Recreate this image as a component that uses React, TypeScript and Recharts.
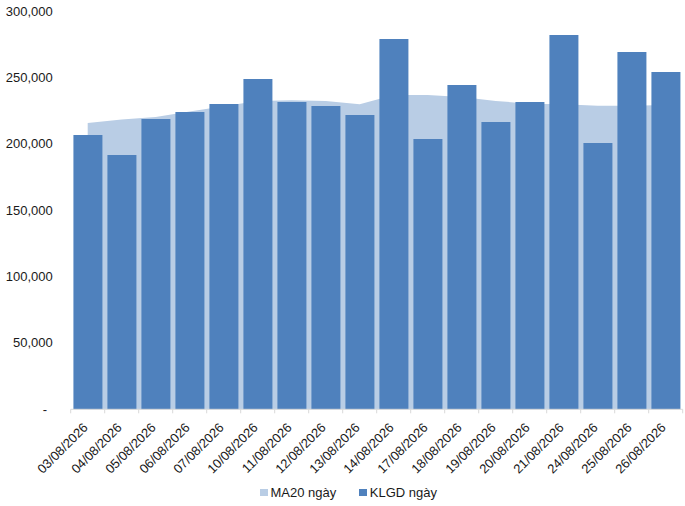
import { ComposedChart, Bar, Area, XAxis, YAxis, Legend } from 'recharts';

const dates = [
  '03/08/2026', '04/08/2026', '05/08/2026', '06/08/2026', '07/08/2026', '10/08/2026',
  '11/08/2026', '12/08/2026', '13/08/2026', '14/08/2026', '17/08/2026', '18/08/2026',
  '19/08/2026', '20/08/2026', '21/08/2026', '24/08/2026', '25/08/2026', '26/08/2026',
];

// KLGD ngày (daily volume)
const klgd = [
  206900, 191800, 218900, 224200, 230200, 249100, 231700, 228700, 221900,
  279200, 203800, 244600, 216600, 231700, 282200, 200800, 269500, 254400,
];

// MA20 ngày
const ma20 = [
  216000, 218500, 220500, 224500, 228500, 232500, 233000, 232500, 230000,
  237000, 237000, 235500, 232500, 230500, 230000, 229000, 229000, 229500,
];

const yTicks = [0, 50000, 100000, 150000, 200000, 250000, 300000];

const FONT = '"Liberation Sans", Arial, sans-serif';
const BAR_COLOR = '#4F81BD';
const AREA_COLOR = '#B9CDE5';
const AXIS_COLOR = '#D9D9D9';

const data = dates.map((d, i) => ({ date: d, klgd: klgd[i], ma20: ma20[i] }));

const YTick = (props: any) => {
  const { y, payload } = props;
  const isZero = payload.value === 0;
  return (
    <text
      x={isZero ? 47 : 52.7}
      y={y}
      dy="0.33em"
      textAnchor="end"
      fontSize={13}
      fontFamily={FONT}
      fill="#1a1a1a"
    >
      {isZero ? '-' : payload.value.toLocaleString('en-US')}
    </text>
  );
};

const XTick = (props: any) => {
  const { x, y, payload, index } = props;
  const half = payload.offset ?? 17;
  return (
    <g>
      <line x1={x - half} x2={x - half} y1={y} y2={y + 4} stroke={AXIS_COLOR} />
      {index === dates.length - 1 && (
        <line x1={x + half} x2={x + half} y1={y} y2={y + 4} stroke={AXIS_COLOR} />
      )}
      <text
        x={x + 1}
        y={y + 19}
        textAnchor="end"
        transform={`rotate(-45, ${x + 1}, ${y + 19})`}
        fontSize={13}
        fontFamily={FONT}
        fill="#1a1a1a"
      >
        {payload.value}
      </text>
    </g>
  );
};

const legendItems = [
  { label: 'MA20 ngày', color: AREA_COLOR },
  { label: 'KLGD ngày', color: BAR_COLOR },
];

const LegendContent = () => (
  <div style={{ display: 'flex', justifyContent: 'center', paddingLeft: 12, fontFamily: FONT, fontSize: 13, color: '#1a1a1a' }}>
    {legendItems.map((item, i) => (
      <div key={item.label} style={{ display: 'flex', alignItems: 'center', marginLeft: i ? 23 : 0 }}>
        <span style={{ display: 'inline-block', width: 7.5, height: 7.5, background: item.color, marginRight: 3 }} />
        <span>{item.label}</span>
      </div>
    ))}
  </div>
);

export default function App() {
  return (
    <div style={{ position: 'absolute', left: 0, top: 0, width: 685, height: 506, background: '#fff' }}>
      <ComposedChart
        width={685}
        height={506}
        data={data}
        margin={{ top: 11.5, right: 2.3, left: 0, bottom: 0 }}
        barCategoryGap="8%"
      >
        <XAxis
          dataKey="date"
          height={96.7}
          interval={0}
          tickLine={false}
          tickSize={0}
          tickMargin={0}
          axisLine={{ stroke: AXIS_COLOR }}
          tick={<XTick />}
        />
        <YAxis
          width={70.7}
          domain={[0, 300000]}
          ticks={yTicks}
          axisLine={false}
          tickLine={false}
          tick={<YTick />}
        />
        <Legend
          verticalAlign="middle"
          layout="horizontal"
          content={<LegendContent />}
          wrapperStyle={{ top: 485, left: 0, width: 685 }}
        />
        <Area
          name="MA20 ngày"
          type="linear"
          dataKey="ma20"
          fill={AREA_COLOR}
          fillOpacity={1}
          stroke="none"
          isAnimationActive={false}
        />
        <Bar name="KLGD ngày" dataKey="klgd" fill={BAR_COLOR} isAnimationActive={false} />
      </ComposedChart>
    </div>
  );
}
